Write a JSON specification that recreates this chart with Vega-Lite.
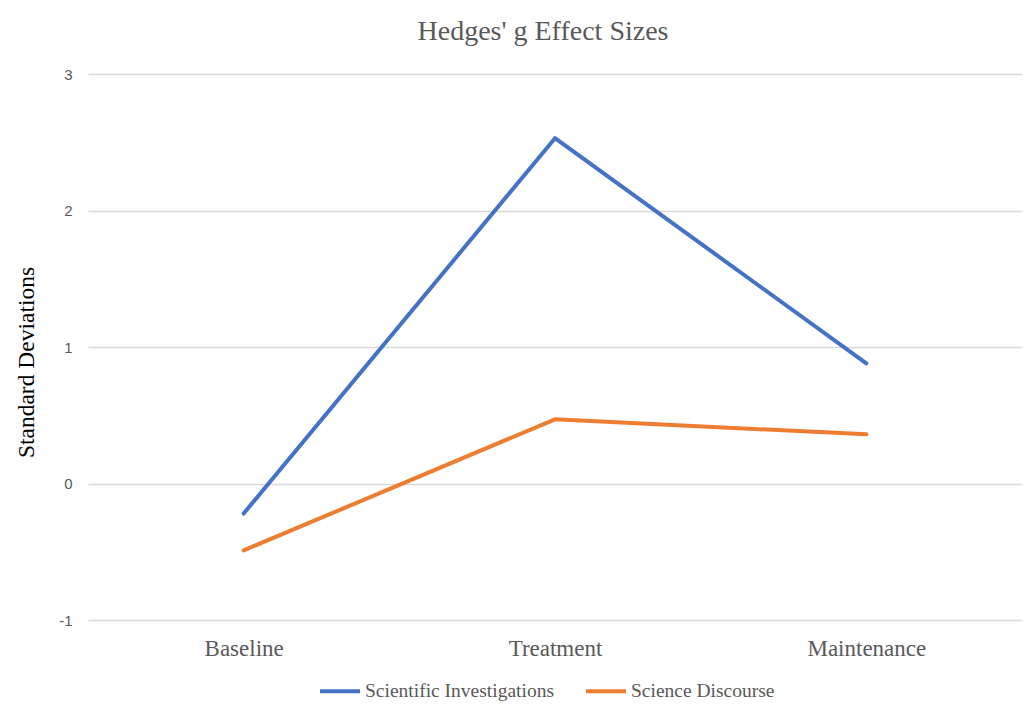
{
  "$schema": "https://vega.github.io/schema/vega-lite/v6.json",
  "autosize": {"type": "none"},
  "padding": {"left": 88, "top": 74, "right": 3, "bottom": 100},
  "width": 934,
  "height": 546,
  "background": "white",
  "config": {"view": {"stroke": null}},
  "title": {
    "text": "Hedges' g Effect Sizes",
    "font": "Liberation Serif",
    "fontSize": 28,
    "fontWeight": "normal",
    "color": "#595959",
    "offset": 21,
    "dx": -12
  },
  "data": {
    "values": [
      {"series": "Scientific Investigations", "phase": "Baseline", "value": -0.22},
      {"series": "Scientific Investigations", "phase": "Treatment", "value": 2.53},
      {"series": "Scientific Investigations", "phase": "Maintenance", "value": 0.88},
      {"series": "Science Discourse", "phase": "Baseline", "value": -0.49},
      {"series": "Science Discourse", "phase": "Treatment", "value": 0.47},
      {"series": "Science Discourse", "phase": "Maintenance", "value": 0.36}
    ]
  },
  "mark": {"type": "line", "strokeWidth": 4, "strokeCap": "round", "strokeJoin": "round"},
  "encoding": {
    "x": {
      "field": "phase",
      "type": "nominal",
      "sort": ["Baseline", "Treatment", "Maintenance"],
      "scale": {"type": "point", "padding": 0.5},
      "axis": {
        "title": null,
        "domain": false,
        "ticks": false,
        "grid": false,
        "labelAngle": 0,
        "labelFont": "Liberation Serif",
        "labelFontSize": 23,
        "labelColor": "#595959",
        "labelPadding": 17
      }
    },
    "y": {
      "field": "value",
      "type": "quantitative",
      "scale": {"domain": [-1, 3], "nice": false},
      "axis": {
        "title": "Standard Deviations",
        "titleFont": "Liberation Serif",
        "titleFontSize": 23.5,
        "titleFontWeight": "normal",
        "titleColor": "#000000",
        "titlePadding": 20,
        "titleY": 288,
        "values": [-1, 0, 1, 2, 3],
        "labelExpr": "'' + datum.value",
        "domain": false,
        "ticks": false,
        "grid": true,
        "gridColor": "#d9d9d9",
        "gridWidth": 1.5,
        "labelFont": "Liberation Sans",
        "labelFontSize": 15,
        "labelColor": "#595959",
        "labelPadding": 16
      }
    },
    "color": {
      "field": "series",
      "type": "nominal",
      "sort": ["Scientific Investigations", "Science Discourse"],
      "scale": {"domain": ["Scientific Investigations", "Science Discourse"], "range": ["#4472C4", "#ED7D31"]},
      "legend": {
        "title": null,
        "orient": "none",
        "legendX": 230,
        "legendY": 595,
        "direction": "horizontal",
        "symbolType": "stroke",
        "symbolStrokeWidth": 4,
        "symbolSize": 1600,
        "labelFont": "Liberation Serif",
        "labelFontSize": 19.5,
        "labelColor": "#595959",
        "labelOffset": 3,
        "labelLimit": 0,
        "columnPadding": 23
      }
    }
  }
}
